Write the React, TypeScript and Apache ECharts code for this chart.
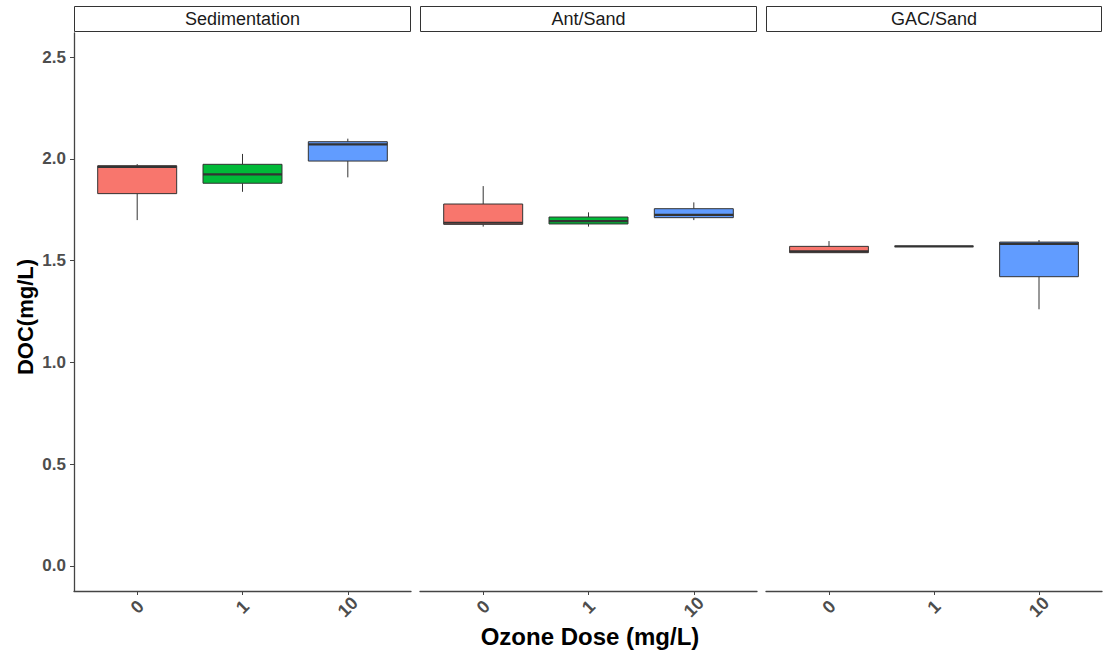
import React, { useEffect, useRef } from "react";
import * as echarts from "echarts";

const panels = ["Sedimentation", "Ant/Sand", "GAC/Sand"];
const doses = ["0", "1", "10"];
const colors = ["#F8766D", "#00BA38", "#619CFF"];
// [lower whisker, Q1, median, Q3, upper whisker]
const sedimentation = [
  [1.699, 1.829, 1.96, 1.966, 1.974],
  [1.838, 1.88, 1.924, 1.973, 2.024],
  [1.909, 1.989, 2.071, 2.084, 2.099],
];
const antSand = [
  [1.667, 1.678, 1.686, 1.778, 1.866],
  [1.667, 1.68, 1.694, 1.714, 1.737],
  [1.699, 1.711, 1.725, 1.755, 1.786],
];
const gacSand = [
  [1.539, 1.539, 1.545, 1.57, 1.596],
  [1.57, 1.57, 1.57, 1.57, 1.57],
  [1.261, 1.421, 1.582, 1.591, 1.601],
];
const yTicks = [0, 0.5, 1, 1.5, 2, 2.5];
const yTitle = "DOC(mg/L)";
const xTitle = "Ozone Dose (mg/L)";

const panelData = [sedimentation, antSand, gacSand];

const FONT = "'Liberation Sans', Arial, Helvetica, sans-serif";
const LEFTS = [74, 420, 766];
const WIDTHS = [337, 337, 336];
const TOP = 33;
const HEIGHT = 558;
const AXIS_COLOR = "#444";
const LABEL_COLOR = "#4D4D4D";

export default function App() {
  const ref = useRef<HTMLDivElement>(null);
  useEffect(() => {
    document.body.style.margin = "0";
    if (!ref.current) return;
    const chart = echarts.init(ref.current, undefined, { renderer: "svg" });

    const grid = LEFTS.map((l, i) => ({
      left: l,
      top: TOP,
      width: WIDTHS[i],
      height: HEIGHT,
      containLabel: false,
      outerBoundsMode: "none",
    }));

    const xAxis = LEFTS.map((_, i) => ({
      type: "value",
      gridIndex: i,
      min: -0.6,
      max: 2.6,
      splitLine: { show: false },
      axisLine: { show: true, onZero: false, lineStyle: { color: AXIS_COLOR, width: 1.3 } },
      axisTick: { show: true, length: 4, customValues: [0, 1, 2], lineStyle: { color: AXIS_COLOR, width: 1 } },
      axisLabel: {
        show: true,
        customValues: [0, 1, 2],
        formatter: (v: number) => doses[Math.round(v)] ?? "",
        rotate: 45,
        align: "center",
        verticalAlign: "middle",
        margin: 16,
        color: LABEL_COLOR,
        fontWeight: "bold",
        fontSize: 18,
        fontFamily: FONT,
      },
    }));

    const yAxis = LEFTS.map((_, i) => ({
      type: "value",
      gridIndex: i,
      min: -0.1228,
      max: 2.618,
      splitLine: { show: false },
      axisLine: { show: i === 0, onZero: false, lineStyle: { color: AXIS_COLOR, width: 1.3 } },
      axisTick: { show: i === 0, length: 4, customValues: yTicks, lineStyle: { color: AXIS_COLOR, width: 1 } },
      axisLabel: {
        show: i === 0,
        customValues: yTicks,
        formatter: (v: number) => v.toFixed(1),
        margin: 8,
        color: LABEL_COLOR,
        fontWeight: "bold",
        fontSize: 17,
        fontFamily: FONT,
      },
    }));

    const series = panelData.map((vals, i) => ({
      type: "custom",
      xAxisIndex: i,
      yAxisIndex: i,
      clip: false,
      encode: { x: 0, y: [1, 2, 3, 4, 5] },
      data: vals.map((d, j) => [j, ...d]),
      renderItem: (params: any, api: any) => {
        const x = api.value(0);
        const lo = api.value(1);
        const q1 = api.value(2);
        const med = api.value(3);
        const q3 = api.value(4);
        const hi = api.value(5);
        const halfW = api.size([0.75, 0])[0] / 2;
        const pLo = api.coord([x, lo]);
        const pQ1 = api.coord([x, q1]);
        const pMed = api.coord([x, med]);
        const pQ3 = api.coord([x, q3]);
        const pHi = api.coord([x, hi]);
        const cx = pMed[0];
        const fill = colors[params.dataIndex];
        return {
          type: "group",
          children: [
            {
              type: "line",
              shape: { x1: cx, y1: pHi[1], x2: cx, y2: pQ3[1] },
              style: { stroke: "#333", lineWidth: 1 },
            },
            {
              type: "line",
              shape: { x1: cx, y1: pQ1[1], x2: cx, y2: pLo[1] },
              style: { stroke: "#333", lineWidth: 1 },
            },
            {
              type: "rect",
              shape: { x: cx - halfW, y: pQ3[1], width: halfW * 2, height: pQ1[1] - pQ3[1] },
              style: { fill, stroke: "#333", lineWidth: 1 },
            },
            {
              type: "line",
              shape: { x1: cx - halfW, y1: pMed[1], x2: cx + halfW, y2: pMed[1] },
              style: { stroke: "#333", lineWidth: 2.2 },
            },
          ],
        };
      },
    }));

    const graphic: any[] = [];
    panels.forEach((p, i) => {
      graphic.push({
        type: "rect",
        shape: { x: LEFTS[i] + 0.5, y: 6.5, width: WIDTHS[i] - 1, height: 25 },
        style: { fill: "#fff", stroke: "#333", lineWidth: 1 },
      });
      graphic.push({
        type: "text",
        x: LEFTS[i] + WIDTHS[i] / 2,
        y: 19,
        style: {
          text: p,
          fill: "#1A1A1A",
          font: `18px ${FONT}`,
          align: "center",
          verticalAlign: "middle",
        },
      });
    });
    graphic.push({
      type: "text",
      x: 25,
      y: 317,
      rotation: Math.PI / 2,
      style: {
        text: yTitle,
        fill: "#000",
        font: `bold 22px ${FONT}`,
        align: "center",
        verticalAlign: "middle",
      },
    });
    graphic.push({
      type: "text",
      x: 590,
      y: 636,
      style: {
        text: xTitle,
        fill: "#000",
        font: `bold 24px ${FONT}`,
        align: "center",
        verticalAlign: "middle",
      },
    });

    chart.setOption({
      animation: false,
      backgroundColor: "#fff",
      grid,
      xAxis,
      yAxis,
      series,
      graphic,
    } as any);
    return () => chart.dispose();
  }, []);
  return <div ref={ref} style={{ width: 1104, height: 654 }} />;
}
